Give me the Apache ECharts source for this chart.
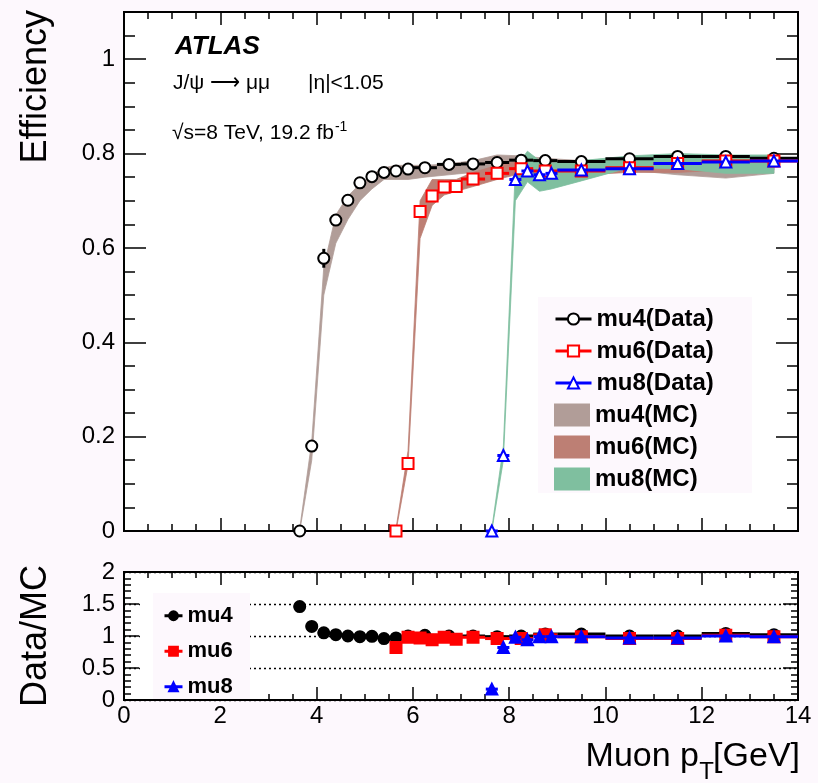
<!DOCTYPE html>
<html><head><meta charset="utf-8">
<script src="https://cdn.jsdelivr.net/npm/echarts@6/dist/echarts.min.js"></script>
<style>html,body{margin:0;padding:0;background:#fdf8fd;} #c{width:818px;height:783px;}</style>
</head><body><div id="c"></div>
<script>
// ---------- data ----------
const mu4X      = [3.65, 3.9, 4.15, 4.4, 4.65, 4.9, 5.15, 5.4, 5.65, 5.9, 6.25, 6.75, 7.25, 7.75, 8.25, 8.75, 9.5, 10.5, 11.5, 12.5, 13.5];
const mu4XErr   = [0.125,0.125,0.125,0.125,0.125,0.125,0.125,0.125,0.125,0.125,0.25,0.25,0.25,0.25,0.25,0.25,0.5,0.5,0.5,0.5,0.5];
const mu4Eff    = [0.0, 0.18, 0.578, 0.659, 0.701, 0.738, 0.751, 0.760, 0.763, 0.767, 0.770, 0.777, 0.778, 0.781, 0.786, 0.785, 0.783, 0.789, 0.794, 0.794, 0.790];
const mu4EffErr = [0, 0.005, 0.02, 0.012, 0.006, 0.005, 0.004, 0.004, 0.003, 0.003, 0.002, 0.002, 0.002, 0.002, 0.002, 0.002, 0.002, 0.002, 0.002, 0.002, 0.002];
const mu4McLo   = [0, 0.15, 0.50, 0.61, 0.66, 0.70, 0.725, 0.745, 0.745, 0.745, 0.75, 0.755, 0.76, 0.765, 0.77, 0.765, 0.765, 0.765, 0.755, 0.748, 0.758];
const mu4McHi   = [0.005, 0.19, 0.56, 0.67, 0.71, 0.735, 0.755, 0.77, 0.775, 0.775, 0.775, 0.778, 0.785, 0.797, 0.795, 0.79, 0.785, 0.79, 0.79, 0.79, 0.79];
const mu4Ratio  = [1.46, 1.15, 1.05, 1.02, 1.0, 0.99, 0.995, 0.96, 0.97, 1.0, 1.01, 1.0, 1.0, 0.99, 1.0, 1.03, 1.03, 1.0, 1.0, 1.04, 1.02];

const mu6X      = [5.65, 5.9, 6.15, 6.4, 6.65, 6.9, 7.25, 7.75, 8.25, 8.75, 9.5, 10.5, 11.5, 12.5, 13.5];
const mu6XErr   = [0.125,0.125,0.125,0.125,0.125,0.125,0.25,0.25,0.25,0.25,0.5,0.5,0.5,0.5,0.5];
const mu6Eff    = [0.0, 0.143, 0.677, 0.710, 0.729, 0.730, 0.746, 0.758, 0.768, 0.763, 0.763, 0.770, 0.779, 0.784, 0.784];
const mu6EffErr = [0, 0.004, 0.006, 0.005, 0.004, 0.004, 0.003, 0.003, 0.003, 0.003, 0.002, 0.002, 0.002, 0.002, 0.002];
const mu6McLo   = [0, 0.14, 0.62, 0.69, 0.712, 0.72, 0.73, 0.745, 0.758, 0.755, 0.755, 0.76, 0.76, 0.765, 0.765];
const mu6McHi   = [0.005, 0.17, 0.70, 0.745, 0.745, 0.745, 0.76, 0.775, 0.785, 0.78, 0.775, 0.78, 0.785, 0.785, 0.785];
const mu6Ratio  = [0.82, 0.98, 0.97, 0.94, 0.98, 0.95, 0.98, 0.96, 0.96, 1.02, 0.99, 0.96, 0.96, 1.01, 0.99];

const mu8X      = [7.64, 7.88, 8.13, 8.38, 8.63, 8.88, 9.5, 10.5, 11.5, 12.5, 13.5];
const mu8XErr   = [0.125,0.125,0.125,0.125,0.125,0.125,0.5,0.5,0.5,0.5,0.5];
const mu8Eff    = [0.0, 0.16, 0.745, 0.763, 0.755, 0.758, 0.765, 0.768, 0.779, 0.782, 0.784];
const mu8EffErr = [0, 0.006, 0.006, 0.005, 0.005, 0.004, 0.002, 0.002, 0.002, 0.002, 0.002];
const mu8McLo   = [0, 0.15, 0.70, 0.74, 0.72, 0.725, 0.742, 0.77, 0.768, 0.758, 0.758];
const mu8McHi   = [0.005, 0.18, 0.77, 0.805, 0.785, 0.78, 0.785, 0.795, 0.80, 0.797, 0.797];
const mu8Ratio  = [0.17, 0.82, 0.98, 0.94, 0.99, 0.99, 0.99, 0.97, 0.97, 1.0, 0.99];

const legendMain  = ['mu4(Data)', 'mu6(Data)', 'mu8(Data)'];
const legendMC    = ['mu4(MC)', 'mu6(MC)', 'mu8(MC)'];
const legendRatio = ['mu4', 'mu6', 'mu8'];

// ---------- styling ----------
const FONT = "'Liberation Sans', Arial, Helvetica, sans-serif";
const BG = '#fdf8fd';
const C4 = '#000000', C6 = '#ff0000', C8 = '#0000ff';
const MC4 = '#b19d98', MC6 = '#bd7f74', MC8 = '#7fbf9f';

const chart = echarts.init(document.getElementById('c'), null, {renderer: 'canvas'});

function band(name, xs, lo, hi, color) {
  return {
    type: 'custom', name: name, xAxisIndex: 0, yAxisIndex: 0, z: 2, silent: true,
    itemStyle: {color: color},
    data: xs.map((x, i) => [x, lo[i], hi[i]]),
    renderItem: (params, api) => {
      if (params.dataIndex !== 0) return null;
      const pts = [];
      for (let i = 0; i < xs.length; i++) pts.push(api.coord([xs[i], hi[i]]));
      for (let i = xs.length - 1; i >= 0; i--) pts.push(api.coord([xs[i], lo[i]]));
      return {type: 'polygon', shape: {points: pts}, style: {fill: color, stroke: color, lineWidth: 0.8}};
    }
  };
}
function errbars(name, xs, ys, xe, ye, color, lw, xi, yi, z) {
  return {
    type: 'custom', name: name, xAxisIndex: xi, yAxisIndex: yi, z: z, silent: true,
    data: xs.map((x, i) => [x, ys[i], xe[i], ye ? ye[i] : 0]),
    renderItem: (params, api) => {
      const x = api.value(0), y = api.value(1), dx = api.value(2), dy = api.value(3);
      const a = api.coord([x - dx, y]), b = api.coord([x + dx, y]);
      const ch = [{type: 'line', shape: {x1: a[0], y1: a[1], x2: b[0], y2: b[1]}, style: {stroke: color, lineWidth: lw}}];
      if (dy > 0) {
        const c = api.coord([x, y - dy]), d = api.coord([x, y + dy]);
        ch.push({type: 'line', shape: {x1: c[0], y1: c[1], x2: d[0], y2: d[1]}, style: {stroke: color, lineWidth: lw}});
      }
      return {type: 'group', children: ch};
    }
  };
}
function markers(name, xs, ys, color, symbol, size, xi, yi, z) {
  return {
    type: 'line', name: name, xAxisIndex: xi, yAxisIndex: yi, z: z, silent: true,
    data: xs.map((x, i) => [x, ys[i]]),
    symbol: symbol, symbolSize: size, showSymbol: true, showAllSymbol: true,
    lineStyle: {width: 0, color: color},
    itemStyle: {color: color, borderWidth: 2, borderColor: color},
    animation: false
  };
}
const tickStyle = {color: '#000', width: 1.5};
function xAx(grid, pos, showLabel, majLen, minLen) {
  return {
    type: 'value', gridIndex: grid, position: pos, min: 0, max: 14, interval: 2,
    axisLine: {show: false, onZero: false},
    axisTick: {show: true, inside: true, length: majLen, lineStyle: tickStyle},
    minorTick: {show: true, splitNumber: 4, length: minLen, lineStyle: tickStyle},
    axisLabel: {show: showLabel, color: '#000', fontSize: 24, fontFamily: FONT, margin: 4},
    splitLine: {show: false}
  };
}
function yAx(grid, pos, min, max, interval, len, showLabel, fmt) {
  return {
    type: 'value', gridIndex: grid, position: pos, min: min, max: max, interval: interval,
    axisLine: {show: false, onZero: false},
    axisTick: {show: true, inside: true, length: len, lineStyle: tickStyle},
    axisLabel: {show: showLabel, color: '#000', fontSize: 24, fontFamily: FONT, margin: 9, formatter: fmt},
    splitLine: {show: false}
  };
}
const ratioY = (pos, showLabel) => ({
  type: 'value', gridIndex: 1, position: pos, min: 0, max: 2, interval: 0.5,
  axisLine: {show: false, onZero: false},
  axisTick: {show: true, inside: true, length: 15, lineStyle: tickStyle},
  minorTick: {show: true, splitNumber: 5, length: 7, lineStyle: tickStyle},
  axisLabel: {show: showLabel, color: '#000', fontSize: 24, fontFamily: FONT, margin: 9},
  splitLine: {show: showLabel, lineStyle: {color: '#000', width: 1.3, type: [2, 3]}}
});

const option = {
  backgroundColor: BG,
  animation: false,
  grid: [
    {left: 124, top: 12, width: 674, height: 519, show: true, backgroundColor: '#fff', borderColor: '#000', borderWidth: 2},
    {left: 124, top: 572, width: 674, height: 128, show: true, backgroundColor: '#fff', borderColor: '#000', borderWidth: 2}
  ],
  xAxis: [
    xAx(0, 'bottom', false, 13, 7),
    xAx(0, 'top', false, 13, 7),
    xAx(1, 'bottom', true, 13, 6),
    xAx(1, 'top', false, 13, 6)
  ],
  yAxis: [
    yAx(0, 'left', 0, 1.1, 0.2, 22, true, v => (v > 1.05 ? '' : String(Math.round(v * 10) / 10))),
    yAx(0, 'right', 0, 1.1, 0.2, 22, false),
    yAx(0, 'left', 0, 1.1, 0.05, 11, false),
    yAx(0, 'right', 0, 1.1, 0.05, 11, false),
    ratioY('left', true),
    ratioY('right', false)
  ],
  legend: [
    {
      left: 549, top: 298, orient: 'vertical', itemGap: 0, itemWidth: 36, itemHeight: 14,
      selectedMode: false, data: legendMain, z: 6,
      lineStyle: {width: 3},
      textStyle: {fontSize: 24, fontWeight: 'bold', fontFamily: FONT, color: '#000', lineHeight: 32}
    },
    {
      left: 549, top: 394, orient: 'vertical', itemGap: 0, itemWidth: 36, itemHeight: 23,
      selectedMode: false, z: 6,
      data: legendMC.map(n => ({name: n, icon: 'rect'})),
      textStyle: {fontSize: 24, fontWeight: 'bold', fontFamily: FONT, color: '#000', lineHeight: 32}
    },
    {
      left: 158, top: 593, orient: 'vertical', itemGap: 0, itemWidth: 18, itemHeight: 11,
      selectedMode: false, data: legendRatio, z: 6,
      lineStyle: {width: 3},
      textStyle: {fontSize: 22, fontWeight: 'bold', fontFamily: FONT, color: '#000', lineHeight: 35.5}
    }
  ],
  graphic: [
    {type: 'rect', z: 4, silent: true, shape: {x: 538, y: 297, width: 214, height: 196}, style: {fill: BG}},
    {type: 'rect', z: 4, silent: true, shape: {x: 140, y: 593, width: 13, height: 106}, style: {fill: '#fff'}},
    {type: 'rect', z: 4, silent: true, shape: {x: 153, y: 593, width: 97, height: 106}, style: {fill: BG}},
    {type: 'text', z: 10, x: 175, y: 47, style: {text: 'ATLAS', font: "italic bold 26px " + FONT, fill: '#000', verticalAlign: 'middle'}},
    {type: 'text', z: 10, x: 173, y: 83, style: {text: 'J/ψ ⟶ μμ', font: "21px " + FONT, fill: '#000', verticalAlign: 'middle'}},
    {type: 'text', z: 10, x: 308, y: 83, style: {text: '|η|<1.05', font: "21px " + FONT, fill: '#000', verticalAlign: 'middle'}},
    {type: 'text', z: 10, x: 172, y: 133, style: {
      text: '{a|√s=8 TeV, 19.2 fb}{b|-1}', verticalAlign: 'middle',
      rich: {a: {fontSize: 21, fontFamily: FONT, color: '#000'},
             b: {fontSize: 14, fontFamily: FONT, color: '#000', padding: [0, 0, 12, 1]}}}},
    {type: 'text', z: 10, x: 36, y: 10, rotation: Math.PI / 2, style: {text: 'Efficiency', font: "36px " + FONT, fill: '#000', align: 'right', verticalAlign: 'middle'}},
    {type: 'text', z: 10, x: 36, y: 636, rotation: Math.PI / 2, style: {text: 'Data/MC', font: "36px " + FONT, fill: '#000', align: 'center', verticalAlign: 'middle'}},
    {type: 'text', z: 10, x: 800, y: 757, style: {text: '[GeV]', font: "34px " + FONT, fill: '#000', align: 'right', verticalAlign: 'middle'}},
    {type: 'text', z: 10, x: 714, y: 772, style: {text: 'T', font: "24px " + FONT, fill: '#000', align: 'right', verticalAlign: 'middle'}},
    {type: 'text', z: 10, x: 699, y: 757, style: {text: 'Muon p', font: "34px " + FONT, fill: '#000', align: 'right', verticalAlign: 'middle'}}
  ],
  series: [
    band('mu4(MC)', mu4X, mu4McLo, mu4McHi, MC4),
    band('mu6(MC)', mu6X, mu6McLo, mu6McHi, MC6),
    band('mu8(MC)', mu8X, mu8McLo, mu8McHi, MC8),
    markers('mu4(Data)', mu4X, mu4Eff, C4, 'emptyCircle', 11, 0, 0, 6),
    errbars('mu4 err', mu4X, mu4Eff, mu4XErr, mu4EffErr, C4, 3, 0, 0, 5),
    markers('mu6(Data)', mu6X, mu6Eff, C6, 'emptyRect', 11, 0, 0, 8),
    errbars('mu6 err', mu6X, mu6Eff, mu6XErr, mu6EffErr, C6, 3, 0, 0, 7),
    markers('mu8(Data)', mu8X, mu8Eff, C8, 'emptyTriangle', 11, 0, 0, 10),
    errbars('mu8 err', mu8X, mu8Eff, mu8XErr, mu8EffErr, C8, 3, 0, 0, 9),
    markers('mu4', mu4X, mu4Ratio, C4, 'circle', 11, 2, 4, 6),
    errbars('mu4 rerr', mu4X, mu4Ratio, mu4XErr, null, C4, 3, 2, 4, 5),
    markers('mu6', mu6X, mu6Ratio, C6, 'rect', 11, 2, 4, 8),
    errbars('mu6 rerr', mu6X, mu6Ratio, mu6XErr, null, C6, 3, 2, 4, 7),
    markers('mu8', mu8X, mu8Ratio, C8, 'triangle', 11, 2, 4, 10),
    errbars('mu8 rerr', mu8X, mu8Ratio, mu8XErr, null, C8, 3, 2, 4, 9)
  ]
};
chart.setOption(option);
</script>
</body></html>
